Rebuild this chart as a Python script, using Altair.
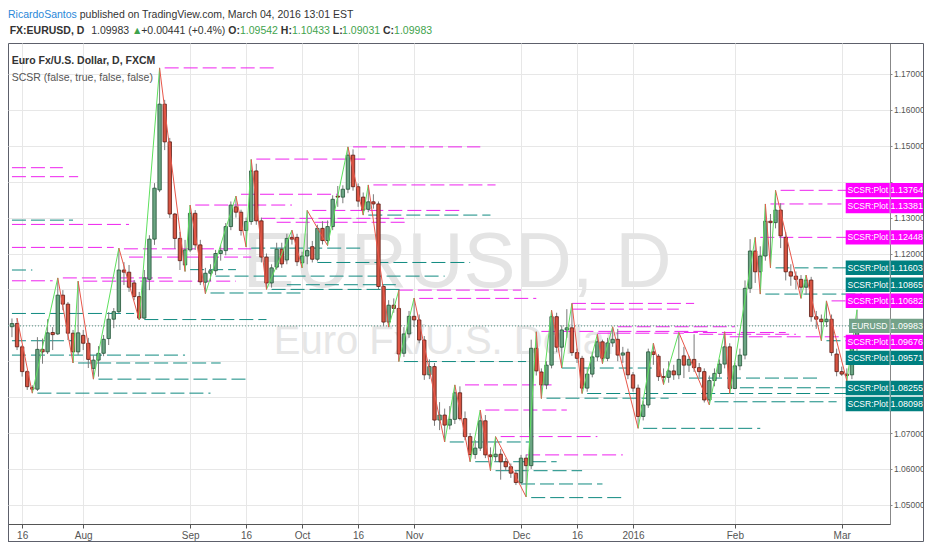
import altair as alt
import pandas as pd

FONT = "Liberation Sans, Arial, sans-serif"

# ---------------- data (EUR/USD daily, bar 0 = 2015-07-16) ----------------
first_bar = -2
opens = [1.0996, 1.1005, 1.0940, 1.0871, 1.0827, 1.0822, 1.0933, 1.0926, 1.0980, 1.0976, 1.1084, 1.1059,
         1.0978, 1.0926, 1.0972, 1.0950, 1.0880, 1.0903, 1.0922, 1.0963, 1.1017, 1.1038,
         1.1154, 1.1148, 1.1118, 1.1080, 1.1020, 1.1128, 1.1240, 1.1377, 1.1616, 1.1511,
         1.1310, 1.1242, 1.1168, 1.1210, 1.1312, 1.1224, 1.1120, 1.1145, 1.1152, 1.1200,
         1.1208, 1.1275, 1.1330, 1.1315, 1.1264, 1.1289, 1.1430, 1.1291, 1.1190, 1.1118,
         1.1162, 1.1212, 1.1182, 1.1245, 1.1245, 1.1174, 1.1193, 1.1219, 1.1184, 1.1270,
         1.1236, 1.1275, 1.1360, 1.1357, 1.1379, 1.1474, 1.1386, 1.1357, 1.1323, 1.1344,
         1.1338, 1.1108, 1.1009, 1.1056, 1.1047, 1.0922, 1.0976, 1.1025, 1.1015, 1.0959,
         1.0862, 1.0885, 1.0736, 1.0750, 1.0722, 1.0738, 1.0812, 1.0740, 1.0690, 1.0640,
         1.0658, 1.0734, 1.0639, 1.0634, 1.0641, 1.0620, 1.0606, 1.0588, 1.0562, 1.0630,
         1.0609, 1.0936, 1.0870, 1.0834, 1.0889, 1.1024, 1.0939, 1.0987, 1.0993, 1.0924,
         1.0908, 1.0825, 1.0864, 1.0912, 1.0954, 1.0908, 1.0951, 1.0961, 1.0917, 1.0925,
         1.0862, 1.0825, 1.0746, 1.0778, 1.0926, 1.0914, 1.0857, 1.0855, 1.0873, 1.0862,
         1.0915, 1.0889, 1.0905, 1.0882, 1.0871, 1.0792, 1.0846, 1.0866, 1.0892, 1.0940,
         1.0824, 1.0887, 1.0917, 1.1103, 1.1207, 1.1149, 1.1193, 1.1290, 1.1286, 1.1321,
         1.1245, 1.1149, 1.1137, 1.1128, 1.1106, 1.1126, 1.1024, 1.1017, 1.1010, 1.1017,
         1.0920, 1.0871, 1.0864, 1.0862, 1.09542]
highs = [1.1019, 1.1020, 1.0945, 1.0875, 1.0833, 1.0967, 1.0963, 1.1017, 1.0995, 1.1132, 1.1098, 1.1065,
         1.0987, 1.1123, 1.0987, 1.0965, 1.0917, 1.0942, 1.0973, 1.1037, 1.1048, 1.1215,
         1.1176, 1.1168, 1.1126, 1.1093, 1.1154, 1.1251, 1.1396, 1.1717, 1.1628, 1.1522,
         1.1313, 1.1260, 1.1238, 1.1335, 1.1321, 1.1238, 1.1160, 1.1170, 1.1210, 1.1224,
         1.1285, 1.1345, 1.1360, 1.1322, 1.1300, 1.1462, 1.1450, 1.1300, 1.1200, 1.1170,
         1.1230, 1.1230, 1.1255, 1.1265, 1.1255, 1.1205, 1.1320, 1.1235, 1.1280, 1.1290,
         1.1292, 1.1362, 1.1388, 1.1390, 1.1497, 1.1490, 1.1395, 1.1370, 1.1391, 1.1365,
         1.1345, 1.1112, 1.1070, 1.1075, 1.1098, 1.0995, 1.1040, 1.1076, 1.1030, 1.0970,
         1.0905, 1.0895, 1.0786, 1.0768, 1.0775, 1.0834, 1.0830, 1.0760, 1.0700, 1.0680,
         1.0764, 1.0750, 1.0660, 1.0690, 1.0655, 1.0630, 1.0615, 1.0595, 1.0639, 1.0640,
         1.0960, 1.0982, 1.0880, 1.0900, 1.1042, 1.1035, 1.1000, 1.1045, 1.1061, 1.0935,
         1.0915, 1.0880, 1.0925, 1.0975, 1.0960, 1.0965, 1.0996, 1.0990, 1.0940, 1.0935,
         1.0870, 1.0835, 1.0790, 1.0935, 1.0950, 1.0920, 1.0880, 1.0900, 1.0890, 1.0980,
         1.0940, 1.0915, 1.0975, 1.0895, 1.0880, 1.0860, 1.0880, 1.0905, 1.0982, 1.0950,
         1.0895, 1.0935, 1.1125, 1.1240, 1.1245, 1.1220, 1.1338, 1.1310, 1.1376, 1.1340,
         1.1260, 1.1170, 1.1150, 1.1140, 1.1140, 1.1135, 1.1040, 1.1030, 1.1068, 1.1030,
         1.0935, 1.0885, 1.0880, 1.0968, 1.10433]
lows = [1.0967, 1.0931, 1.0857, 1.0820, 1.0811, 1.0817, 1.0893, 1.0920, 1.0931, 1.0973, 1.1042, 1.0959,
        1.0895, 1.0917, 1.0931, 1.0881, 1.0850, 1.0857, 1.0914, 1.0945, 1.0992, 1.1034,
        1.1112, 1.1093, 1.1070, 1.1015, 1.1018, 1.1098, 1.1224, 1.1371, 1.1488, 1.1299,
        1.1213, 1.1154, 1.1150, 1.1204, 1.1210, 1.1112, 1.1088, 1.1123, 1.1140, 1.1180,
        1.1195, 1.1265, 1.1300, 1.1250, 1.1218, 1.1280, 1.1280, 1.1175, 1.1100, 1.1105,
        1.1155, 1.1160, 1.1170, 1.1225, 1.1165, 1.1160, 1.1170, 1.1175, 1.1178, 1.1225,
        1.1222, 1.1265, 1.1330, 1.1340, 1.1368, 1.1375, 1.1330, 1.1307, 1.1315, 1.1325,
        1.1100, 1.0998, 1.0995, 1.1035, 1.0899, 1.0912, 1.0965, 1.0995, 1.0950, 1.0848,
        1.0850, 1.0720, 1.0708, 1.0675, 1.0710, 1.0725, 1.0735, 1.0680, 1.0620, 1.0628,
        1.0650, 1.0630, 1.0595, 1.0620, 1.0570, 1.0595, 1.0575, 1.0555, 1.0558, 1.0522,
        1.0600, 1.0860, 1.0796, 1.0822, 1.0880, 1.0925, 1.0881, 1.0965, 1.0915, 1.0895,
        1.0810, 1.0815, 1.0855, 1.0900, 1.0893, 1.0900, 1.0940, 1.0900, 1.0895, 1.0850,
        1.0815, 1.0713, 1.0735, 1.0770, 1.0890, 1.0845, 1.0835, 1.0840, 1.0848, 1.0850,
        1.0853, 1.0870, 1.0870, 1.0855, 1.0785, 1.0778, 1.0830, 1.0855, 1.0880, 1.0810,
        1.0822, 1.0875, 1.0905, 1.1090, 1.1118, 1.1087, 1.1180, 1.1160, 1.1270, 1.1215,
        1.1125, 1.1110, 1.1100, 1.1075, 1.1085, 1.1010, 1.0990, 1.0957, 1.0995, 1.0915,
        1.0858, 1.0859, 1.0845, 1.0850, 1.09031]
closes = [1.1005, 1.0940, 1.0871, 1.0829, 1.0822, 1.0933, 1.0926, 1.0979, 1.0974, 1.1084, 1.1059, 1.0978,
          1.0926, 1.0979, 1.0950, 1.0905, 1.0903, 1.0922, 1.0961, 1.1017, 1.1038, 1.1154,
          1.1148, 1.1106, 1.1080, 1.1020, 1.1132, 1.1240, 1.1382, 1.1616, 1.1511, 1.1310,
          1.1242, 1.1180, 1.1210, 1.1312, 1.1224, 1.1121, 1.1145, 1.1152, 1.1200, 1.1208,
          1.1275, 1.1335, 1.1315, 1.1264, 1.1289, 1.1430, 1.1291, 1.1190, 1.1118, 1.1160,
          1.1212, 1.1171, 1.1242, 1.1240, 1.1177, 1.1193, 1.1208, 1.1184, 1.1270, 1.1236,
          1.1275, 1.1351, 1.1357, 1.1379, 1.1474, 1.1386, 1.1346, 1.1321, 1.1344, 1.1338,
          1.1108, 1.1009, 1.1056, 1.1047, 1.0920, 1.0976, 1.1025, 1.1015, 1.0959, 1.0862,
          1.0885, 1.0736, 1.0750, 1.0722, 1.0738, 1.0812, 1.0740, 1.0690, 1.0640, 1.0658,
          1.0734, 1.0639, 1.0634, 1.0641, 1.0620, 1.0606, 1.0588, 1.0562, 1.0630, 1.0609,
          1.0936, 1.0873, 1.0834, 1.0889, 1.1024, 1.0939, 1.0987, 1.0993, 1.0924, 1.0908,
          1.0825, 1.0864, 1.0912, 1.0954, 1.0908, 1.0951, 1.0961, 1.0917, 1.0923, 1.0862,
          1.0825, 1.0746, 1.0778, 1.0926, 1.0919, 1.0857, 1.0855, 1.0873, 1.0862, 1.0905,
          1.0889, 1.0905, 1.0882, 1.0871, 1.0792, 1.0846, 1.0866, 1.0892, 1.0940, 1.0824,
          1.0887, 1.0917, 1.1103, 1.1207, 1.1149, 1.1193, 1.1290, 1.1286, 1.1321, 1.1249,
          1.1149, 1.1137, 1.1128, 1.1106, 1.1126, 1.1024, 1.1017, 1.1010, 1.1017, 1.0924,
          1.0871, 1.0864, 1.0860, 1.09542, 1.09983]

tick_bars = [0, 12, 33, 44, 55, 66, 77, 98, 109, 120, 140, 161]
tick_names = ["16", "Aug", "Sep", "16", "Oct", "16", "Nov", "Dec", "16", "2016", "Feb", "Mar"]
price_ticks = [1.05, 1.06, 1.07, 1.08, 1.09, 1.10, 1.11, 1.12, 1.13, 1.14, 1.15, 1.16, 1.17]

# SCSR resistance (magenta) and support (teal) levels: start bar, end bar, price
res_start = [-2, -2, -2, -2, -2, 20, 21, 8, 12, 28, 43, 34, 46, 65, 69, 57, 47, 50, 74, 78, 87, 91, 94, 99,
             108, 108, 102, 117, 130, 133, 139, 113, 149, 147, 145, 159]
res_end = [8, 11, 21, 18, 6, 45, 45, 30, 42, 50, 62, 53, 68, 90, 93, 86, 75, 76, 98, 101, 104, 107, 113, 118,
           132, 129, 135, 140, 150, 152, 165, 130, 165, 165, 165, 165]
res_price = [1.1439, 1.1414, 1.1281, 1.1217, 1.1124, 1.1213, 1.1190, 1.1132, 1.1123, 1.1717, 1.1365, 1.1335,
             1.1463, 1.1497, 1.1391, 1.1320, 1.1298, 1.1287, 1.1098, 1.1075, 1.0834, 1.0764, 1.0690, 1.0639,
             1.1061, 1.1045, 1.0983, 1.0996, 1.0980, 1.0975, 1.0968, 1.0978, 1.1376, 1.1338, 1.1245, 1.1068]
sup_start = [-2, -2, -2, -2, -2, 3, 11, 15, 24, 33, 38, 37, 45, 49, 52, 58, 68, 75, 84, 89, 93, 98, 100,
             106, 103, 111, 122, 131, 141, 136, 148, 146, 158]
sup_end = [10, 2, 22, 10, 32, 37, 39, 44, 48, 42, 83, 55, 67, 75, 74, 88, 92, 99, 100, 105, 110, 114, 118,
           125, 127, 165, 145, 157, 165, 160, 165, 165, 165]
sup_price = [1.1293, 1.1154, 1.1033, 1.0957, 1.0917, 1.0811, 1.0895, 1.0850, 1.1016, 1.1155, 1.1137, 1.1090,
             1.1215, 1.1100, 1.1113, 1.1175, 1.1307, 1.0899, 1.0675, 1.0620, 1.0595, 1.0558, 1.0520, 1.0881,
             1.0797, 1.0810, 1.0713, 1.0853, 1.0826, 1.0787, 1.1160, 1.1087, 1.0957]

# right-edge price labels, in placement priority order
label_prices = [1.09983, 1.10682, 1.13764, 1.12448, 1.11603, 1.08255, 1.13381, 1.10865, 1.09676, 1.09571, 1.08098]
label_kinds = ["price", "res", "res", "res", "sup", "sup", "res", "sup", "res", "sup", "sup"]

# ---------------- derived tables ----------------
n = len(opens)
bars = list(range(first_bar, first_bar + n))
cdf = pd.DataFrame({"i": bars, "open": opens, "high": highs, "low": lows, "close": closes})
up_df = cdf[cdf["close"] >= cdf["open"]]
dn_df = cdf[cdf["close"] < cdf["open"]]

piv = []
def add_pivot(p):
    if piv and piv[-1][0] == p[0]:
        if (p[0] == "H" and p[2] >= piv[-1][2]) or (p[0] == "L" and p[2] <= piv[-1][2]):
            piv[-1] = p
    else:
        piv.append(p)
for k in range(1, n - 1):
    pts = []
    if highs[k] >= highs[k - 1] and highs[k] > highs[k + 1]:
        pts.append(("H", bars[k], highs[k]))
    if lows[k] <= lows[k - 1] and lows[k] < lows[k + 1]:
        pts.append(("L", bars[k], lows[k]))
    if len(pts) == 2 and closes[k] >= opens[k]:
        pts = [pts[1], pts[0]]
    for p in pts:
        add_pivot(p)
if piv and piv[-1][0] == "L":
    piv.append(("H", bars[-1], highs[-1]))
seg = pd.DataFrame([{"x": a[1], "y": a[2], "x2": b[1], "y2": b[2], "up": b[2] > a[2]}
                    for a, b in zip(piv[:-1], piv[1:])])
zz_up = seg[seg["up"]]
zz_dn = seg[~seg["up"]]

res_df = pd.DataFrame({"s": res_start, "e": res_end, "p": res_price})
sup_df = pd.DataFrame({"s": sup_start, "e": sup_end, "p": sup_price})

PX = 1 / 3590.0
gap = 16 * PX
placed = []
for v in label_prices:
    cands = [v] + [q + s * gap for q in placed for s in (1, -1)]
    ok = [c for c in cands if all(abs(c - q) >= gap - 1e-9 for q in placed)]
    placed.append(min(ok, key=lambda c: abs(c - v)))
lab = pd.DataFrame({"v": label_prices, "kind": label_kinds, "d": placed})
lab["lo"] = lab["d"] - 7.2 * PX
lab["hi"] = lab["d"] + 7.2 * PX
lab["vt"] = lab["v"].map(lambda x: f"{x:.5f}")
lab["name"] = ["EURUSD" if k == "price" else "SCSR:Plot" for k in label_kinds]
lab_res = lab[lab["kind"] == "res"]
lab_sup = lab[lab["kind"] == "sup"]
lab_px = lab[lab["kind"] == "price"]

# axis price labels that sit under a label box are hidden (as in the reference)
covered = [t for t in price_ticks if any(abs(t - d) < 10 * PX for d in placed)]

last_close = closes[-1]
prev_close = closes[-2]
chg = last_close - prev_close
pct = chg / prev_close * 100
price_df = pd.DataFrame({"p": [last_close]})
one = pd.DataFrame({"a": [0]})

# ---------------- chart ----------------
W, H = 882, 481
RX = 915.5      # outer right frame (relative to plot left)
BY = 498.5      # outer bottom frame (relative to plot top)
X_SCALE = alt.Scale(domain=[-1.795, 169.5], nice=False, zero=False)
Y_SCALE = alt.Scale(domain=[1.044652, 1.178635], nice=False, zero=False)
x_label_expr = "[" + ",".join(f"'{t}'" for t in tick_names) + "][indexof([" + \
               ",".join(str(b) for b in tick_bars) + "], datum.value)]"
y_label_expr = "indexof([" + ",".join(repr(t) for t in covered) + "], datum.value) >= 0 ? '' : format(datum.value, '.5f')"
X_AXIS = alt.Axis(orient="bottom", values=tick_bars, labelExpr=x_label_expr, title=None, grid=True,
                  gridColor="#e7e7e7", tickSize=4, tickColor="#555555", domainColor="#555555",
                  labelFont=FONT, labelFontSize=10, labelColor="#555555", labelPadding=2)
Y_AXIS = alt.Axis(orient="right", values=price_ticks, labelExpr=y_label_expr, title=None, grid=True,
                  gridColor="#e7e7e7", tickSize=2, tickColor="#888888", domainColor="#888888",
                  labelFont=FONT, labelFontSize=8.5, labelColor="#555555", labelPadding=1.5)

def X(f):
    return alt.X(f"{f}:Q", scale=X_SCALE, axis=X_AXIS)

def Y(f):
    return alt.Y(f"{f}:Q", scale=Y_SCALE, axis=Y_AXIS)

ARIAL = {" ": 278, ",": 278, ".": 278, ":": 278, "/": 278, "(": 333, ")": 333, "+": 584, "%": 889,
         "-": 333, "\u25b2": 600, "A": 667, "B": 667, "C": 722, "D": 722, "E": 667, "F": 611, "G": 778,
         "H": 722, "I": 278, "J": 500, "K": 667, "L": 556, "M": 833, "N": 722, "O": 778, "P": 667,
         "R": 722, "S": 667, "T": 611, "U": 722, "V": 667, "W": 944, "X": 667, "a": 556, "b": 556,
         "c": 500, "d": 556, "e": 556, "f": 278, "g": 556, "h": 556, "i": 222, "j": 222, "k": 500,
         "l": 222, "m": 833, "n": 556, "o": 556, "p": 556, "r": 333, "s": 500, "t": 278, "u": 556,
         "v": 500, "w": 722, "x": 500, "y": 500, "z": 500}

def tw(s, size, bold=False):
    w = sum(ARIAL.get(ch, 556) for ch in s) / 1000.0 * size
    return w * (1.06 if bold else 1.0)

def txt(s, x, y, size=12, color="#333333", weight="normal", align="left", baseline="middle"):
    return alt.Chart(one).mark_text(text=s, align=align, baseline=baseline, fontSize=size, font=FONT,
                                    color=color, fontWeight=weight).encode(x=alt.value(x), y=alt.value(y))

def rule(x, x2, y, y2, color="#5d606b"):
    return alt.Chart(one).mark_rule(color=color, strokeWidth=1).encode(
        x=alt.value(x), x2=alt.value(x2), y=alt.value(y), y2=alt.value(y2))

def text_run(parts, x0, y, size):
    out, x = [], x0
    for s, color, weight, space in parts:
        if space:
            x += tw(" ", size)
        out.append(txt(s, x, y, size=size, color=color, weight=weight))
        x += tw(s, size, weight == "bold")
    return out

wicks = alt.Chart(cdf).mark_rule(color="#7b7b7b", strokeWidth=1, clip=True).encode(
    x=X("i"), y=Y("low"), y2="high:Q")

wm1 = txt("EURUSD, D", 449, 243.7, size=78, color="#e4e4e4", align="center", baseline="alphabetic")
wm2 = txt("Euro Fx/U.S. Dollar", 438, 311, size=40, color="#e6e6e6", align="center", baseline="alphabetic")

res_layer = alt.Chart(res_df).mark_rule(color="#ee22ee", strokeWidth=1, strokeDash=[14, 5], clip=True).encode(
    x=X("s"), x2="e:Q", y=Y("p"))
sup_layer = alt.Chart(sup_df).mark_rule(color="#108a80", strokeWidth=1, strokeDash=[14, 5], clip=True).encode(
    x=X("s"), x2="e:Q", y=Y("p"))
price_line = alt.Chart(price_df).mark_rule(color="#4f8f80", strokeWidth=1, strokeDash=[1, 2]).encode(
    x=alt.value(0), x2=alt.value(W), y=Y("p"))

body_up = alt.Chart(up_df).mark_bar(size=3.4, fill="#6ba583", stroke="#225437", strokeWidth=0.8, clip=True).encode(
    x=X("i"), y=Y("open"), y2="close:Q")
body_dn = alt.Chart(dn_df).mark_bar(size=3.4, fill="#d75442", stroke="#5b1a13", strokeWidth=0.8, clip=True).encode(
    x=X("i"), y=Y("open"), y2="close:Q")

zz_up_layer = alt.Chart(zz_up).mark_rule(color="#5ee05e", strokeWidth=1, clip=True).encode(
    x=X("x"), y=Y("y"), x2="x2:Q", y2="y2:Q")
zz_dn_layer = alt.Chart(zz_dn).mark_rule(color="#e8574a", strokeWidth=1, clip=True).encode(
    x=X("x"), y=Y("y"), x2="x2:Q", y2="y2:Q")

def label_boxes(df, color, x0):
    box = alt.Chart(df).mark_rect(color=color).encode(
        x=alt.value(x0), x2=alt.value(RX - 0.5), y=Y("hi"), y2="lo:Q")
    name = alt.Chart(df).mark_text(color="white", fontSize=8.5, font=FONT, align="center", baseline="middle").encode(
        x=alt.value((x0 + W) / 2), y=Y("d"), text="name:N")
    val = alt.Chart(df).mark_text(color="white", fontSize=9, font=FONT, align="center", baseline="middle").encode(
        x=alt.value((W + RX) / 2), y=Y("d"), text="vt:N")
    sep = alt.Chart(df).mark_rule(color="#bbbbbb", strokeWidth=1).encode(
        x=alt.value(W), y=Y("hi"), y2="lo:Q")
    return [box, sep, name, val]

GREEN = "#3fa34d"
DARK = "#333333"
HS = 10.5
header = (
    text_run([("RicardoSantos", "#2a88d8", "normal", False),
              ("published on TradingView.com, March 04, 2016 13:01 EST", DARK, "normal", True)], 0, -28.5, HS)
    + text_run([("FX:EURUSD, D", DARK, "bold", False),
                (f"{last_close:.5f}", DARK, "normal", True),
                ("\u25b2", GREEN, "normal", True),
                (f"+{chg:.5f} (+{pct:.1f}%)", DARK, "normal", True),
                ("O:", DARK, "bold", True), (f"{opens[-1]:.5f}", GREEN, "normal", False),
                ("H:", DARK, "bold", True), (f"{highs[-1]:.5f}", GREEN, "normal", False),
                ("L:", DARK, "bold", True), (f"{lows[-1]:.5f}", GREEN, "normal", False),
                ("C:", DARK, "bold", True), (f"{last_close:.5f}", GREEN, "normal", False)], 1.7, -12.5, HS)
    + [txt("Euro Fx/U.S. Dollar, D, FXCM", 3.7, 17.7, size=10.5, color=DARK, weight="bold"),
       txt("SCSR (false, true, false, false)", 3.7, 34.7, size=10.5, color="#555555")]
)

frame = [
    rule(0.5, 0.5, H, BY),
    rule(0, RX, BY, BY),
    rule(RX, RX, 0.5, BY),
    rule(W, RX, 0.5, 0.5),
]

layers = ([wm1, wm2, res_layer, sup_layer, price_line, wicks, body_up, body_dn,
           zz_up_layer, zz_dn_layer]
          + label_boxes(lab_res, "#ff00ff", 837.7)
          + label_boxes(lab_sup, "#008080", 837.7)
          + label_boxes(lab_px, "#74a289", 841)
          + header + frame)

chart = alt.layer(*layers).properties(
    width=W, height=H,
    padding={"left": 0, "top": 35, "right": 34, "bottom": 18},
    autosize=alt.AutoSizeParams(type="none"),
    background="white",
).configure_view(stroke="#5d606b", strokeWidth=1)

chart.save("out.html", embed_options={"renderer": "svg", "actions": False})
